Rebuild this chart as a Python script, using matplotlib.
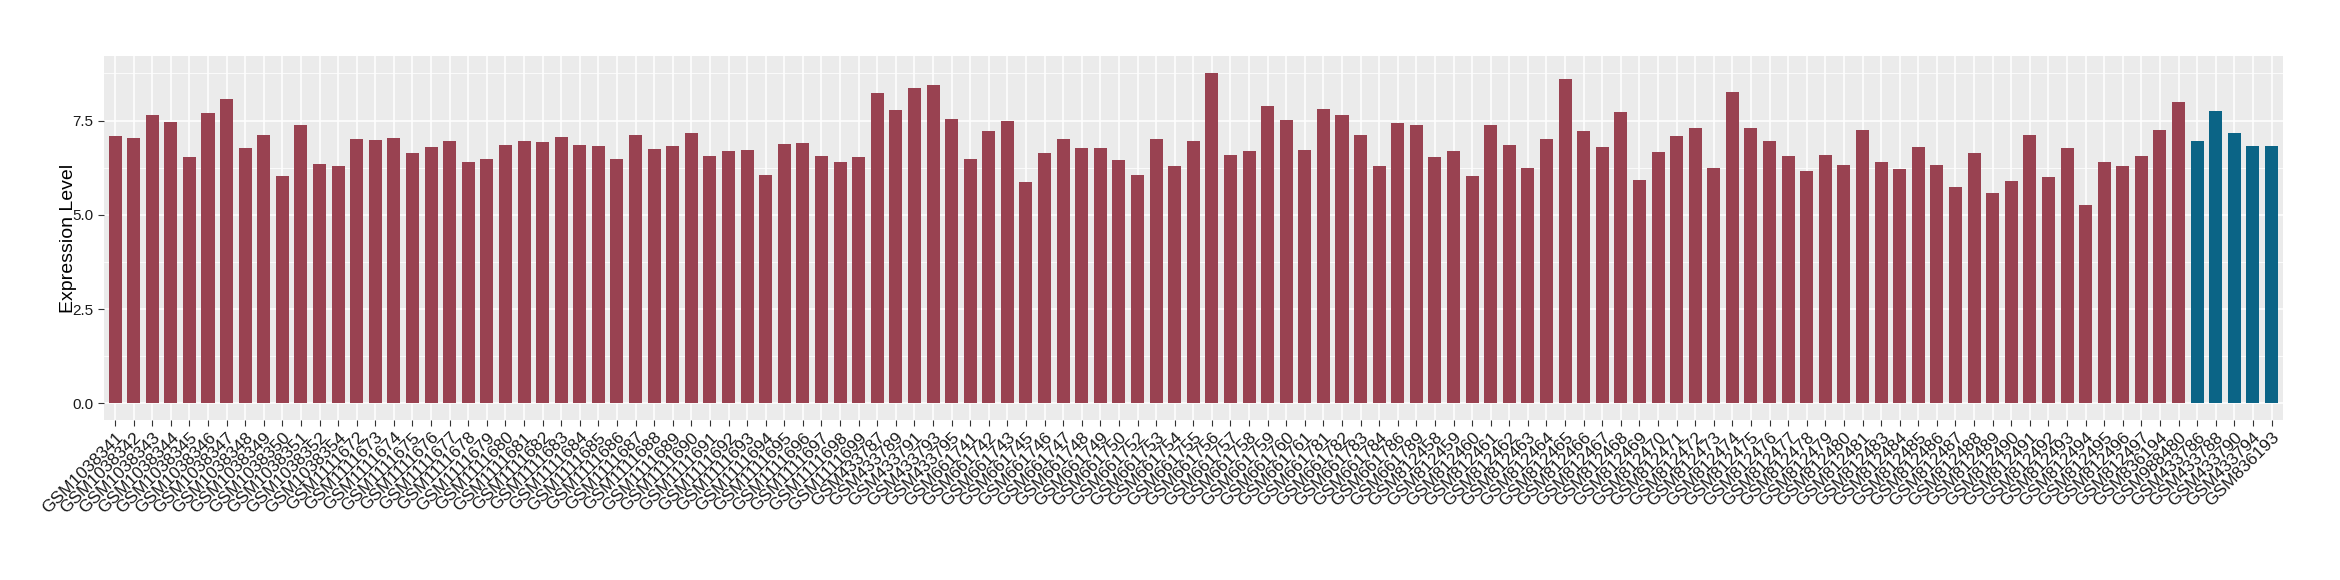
import numpy as np
import matplotlib
matplotlib.use("Agg")
import matplotlib.pyplot as plt
import matplotlib.transforms as mtransforms
from matplotlib.ticker import MultipleLocator

plt.rcParams['font.family'] = ['Liberation Sans', 'DejaVu Sans']

# sample ids, in plotting order
samples = (
    ["GSM10383%d" % i for i in range(41, 51)]
    + ["GSM1038351", "GSM1038352", "GSM1038354"]
    + ["GSM11116%d" % i for i in range(72, 100)]
    + ["GSM433787", "GSM433789", "GSM433791", "GSM433793", "GSM433795"]
    + ["GSM661741", "GSM661742", "GSM661743", "GSM661745", "GSM661746", "GSM661747",
       "GSM661748", "GSM661749", "GSM661750", "GSM661752", "GSM661753", "GSM661754",
       "GSM661755", "GSM661756", "GSM661757", "GSM661758", "GSM661759", "GSM661760",
       "GSM661761", "GSM661781", "GSM661782", "GSM661783", "GSM661784", "GSM661786",
       "GSM661789"]
    + ["GSM8124%d" % i for i in range(58, 82)]
    + ["GSM8124%d" % i for i in range(83, 98)]
    + ["GSM836194", "GSM988480"]
    + ["GSM433786", "GSM433788", "GSM433790", "GSM433794", "GSM836193"]
)

expression = [
    7.08, 7.03, 7.65, 7.46, 6.52, 7.69, 8.08, 6.78, 7.11, 6.03,
    7.39, 6.36, 6.29,
    7.01, 6.98, 7.03, 6.64, 6.80, 6.95, 6.41, 6.49, 6.85, 6.95,
    6.93, 7.06, 6.85, 6.83, 6.49, 7.11, 6.75, 6.83, 7.16, 6.55,
    6.70, 6.72, 6.05, 6.87, 6.90, 6.57, 6.41, 6.52,
    8.23, 7.77, 8.37, 8.45, 7.54,
    6.49, 7.23, 7.49, 5.87, 6.64, 7.01, 6.78, 6.78, 6.44, 6.05,
    7.01, 6.29, 6.95, 8.77, 6.59, 6.70, 7.88, 7.52, 6.72, 7.80,
    7.65, 7.11, 6.29, 7.44, 7.39,
    6.52, 6.70, 6.03, 7.39, 6.85, 6.24, 7.01, 8.60, 7.21, 6.80,
    7.72, 5.93, 6.67, 7.08, 7.29, 6.24, 8.26, 7.29, 6.95, 6.57,
    6.16, 6.59, 6.33, 7.26,
    6.41, 6.21, 6.80, 6.32, 5.75, 6.64, 5.57, 5.90, 7.11, 6.01,
    6.78, 5.26, 6.41, 6.29, 6.57,
    7.26, 7.98,
    6.95, 7.75, 7.18, 6.83, 6.83,
]

# last five samples are the highlighted group
group = ["other"] * (len(samples) - 5) + ["highlight"] * 5
colors = {"other": "#994251", "highlight": "#0B6486"}

fig = plt.figure(figsize=(23.4, 5.8), dpi=100)
ax = fig.add_axes([0.0444, 0.2759, 0.9311, 0.6275])

x = np.arange(len(samples))
ax.bar(x, expression, width=0.7, color=[colors[g] for g in group], zorder=3)

ax.set_facecolor("#EBEBEB")
ax.set_xlim(-0.6, len(samples) - 0.4)
ax.set_ylim(-0.44, 9.21)
ax.yaxis.set_major_locator(MultipleLocator(2.5))
ax.yaxis.set_minor_locator(MultipleLocator(1.25))
ax.grid(which="major", color="white", linewidth=1.1, zorder=0)
ax.grid(which="minor", axis="y", color="white", linewidth=0.55, zorder=0)
for s in ax.spines.values():
    s.set_visible(False)

ax.set_xticks(x)
ax.set_xticklabels(samples, rotation=45, ha="right", va="top",
                   rotation_mode="anchor", fontsize=12.5, color="#1a1a1a")
# nudge rotated labels a little right, like ggplot's hjust/vjust = 1
shift = mtransforms.ScaledTranslation(0.05, 0, fig.dpi_scale_trans)
for lab in ax.get_xticklabels():
    lab.set_transform(lab.get_transform() + shift)

ax.set_yticks([0, 2.5, 5.0, 7.5])
ax.set_yticklabels(["0.0", "2.5", "5.0", "7.5"], fontsize=11, color="#1a1a1a")
ax.tick_params(which="major", length=4, width=0.8, color="#333333")
ax.tick_params(which="minor", length=0)
ax.tick_params(axis="x", pad=3)

ax.set_ylabel("Expression Level", fontsize=14, labelpad=-3)

fig.savefig("out.png", dpi=100)
